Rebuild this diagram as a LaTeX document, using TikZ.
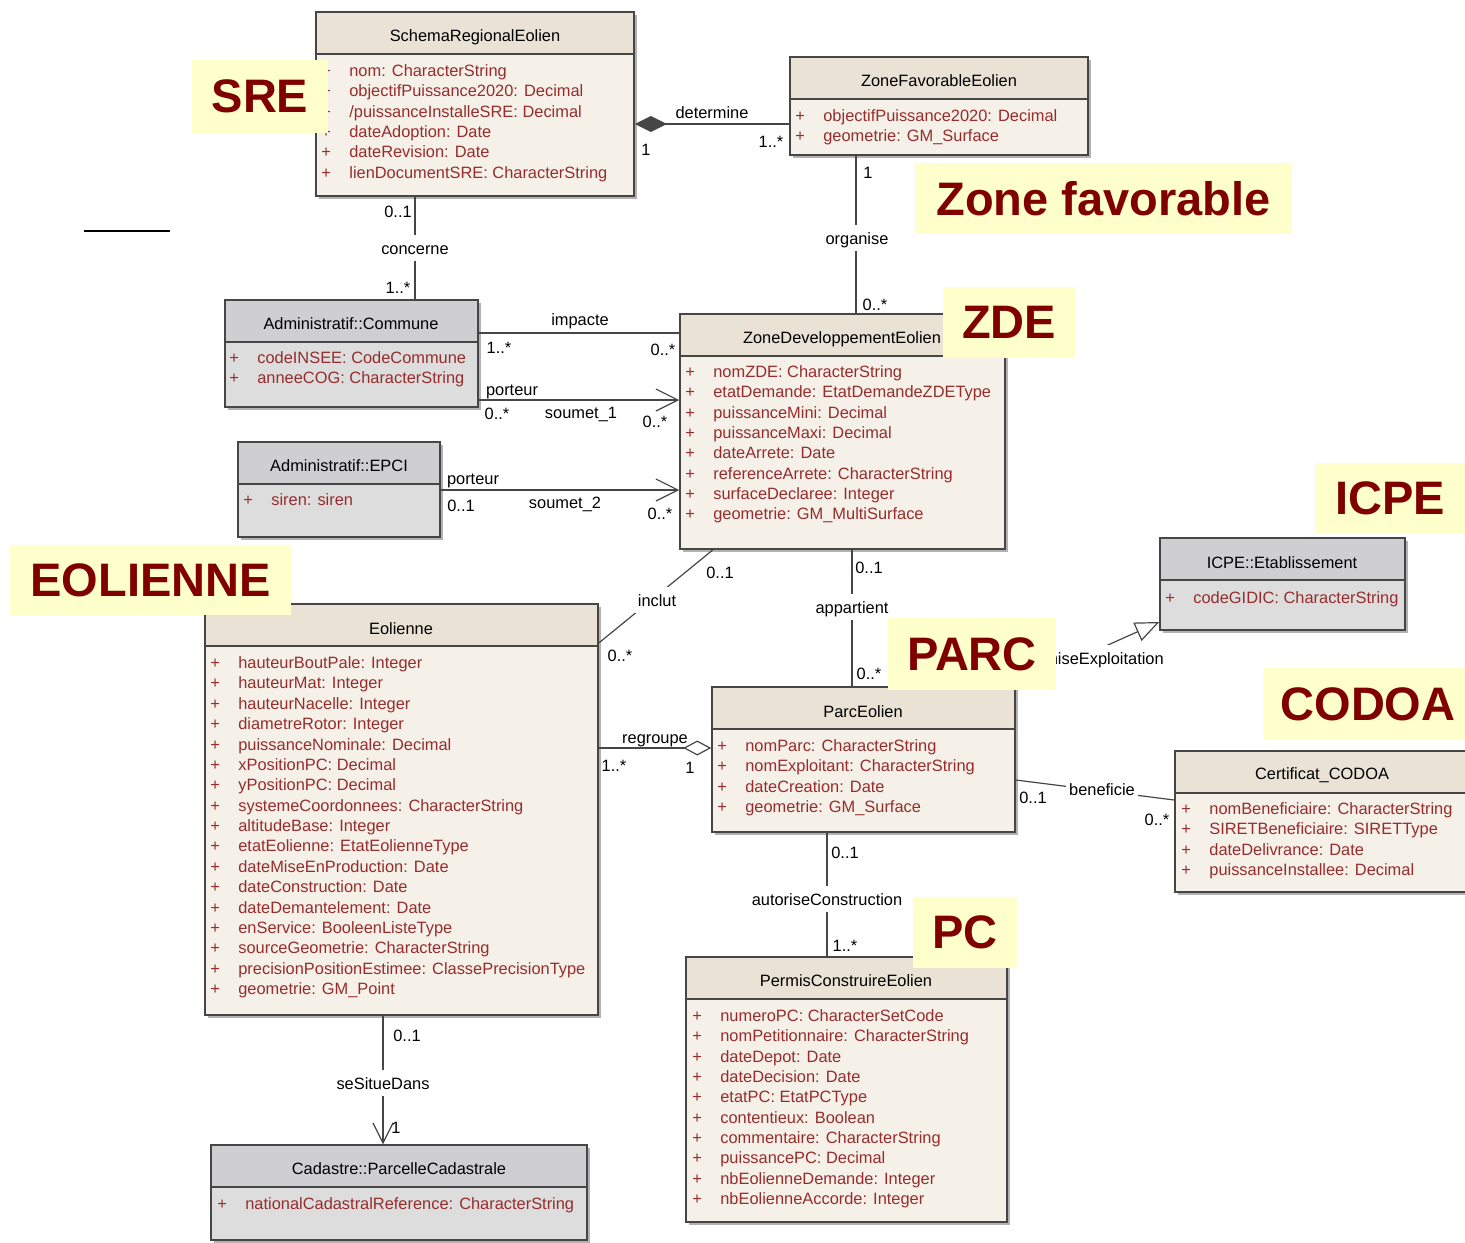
\documentclass[tikz,border=0pt]{standalone}
\usepackage{fontspec}
\setmainfont{Liberation Sans}
\usetikzlibrary{arrows.meta,positioning,fit,shadows}

\definecolor{clsbody}{RGB}{245,240,232}
\definecolor{clshead}{RGB}{233,226,213}
\definecolor{greybody}{RGB}{221,221,222}
\definecolor{greyhead}{RGB}{207,207,209}
\definecolor{clsline}{RGB}{70,70,70}
\definecolor{attrred}{RGB}{150,45,45}
\definecolor{tagfill}{RGB}{255,255,204}
\definecolor{tagred}{RGB}{128,0,0}

\begin{document}
\begin{tikzpicture}[x=0.5pt, y=-0.5pt,
    classbox/.style 2 args={draw=clsline, line width=0.75pt, fill=#1, inner sep=0pt,
        drop shadow={shadow xshift=1.5pt, shadow yshift=-1.5pt, opacity=0.3, fill=black},
        path picture={
            \fill[#2] (path picture bounding box.north west) rectangle ([yshift=-21pt]path picture bounding box.north east);
            \draw[clsline, line width=0.75pt] ([yshift=-21pt]path picture bounding box.north west) -- ([yshift=-21pt]path picture bounding box.north east);
        }},
    beige/.style={classbox={clsbody}{clshead}},
    grey/.style={classbox={greybody}{greyhead}},
    txt/.style={inner sep=0pt, text height=1.5ex, text depth=.25ex, font=\fontsize{8.2}{10}\selectfont},
    attr/.style={txt, anchor=west, text=attrred},
    role/.style={txt, fill=white, inner xsep=1.5pt, inner ysep=2pt},
    assoc/.style={draw=clsline, line width=0.6pt},
    barb/.style={-{Straight Barb[length=11pt,width=11pt]}},
    tag/.style={fill=tagfill, text=tagred, inner sep=0pt, font=\fontsize{23.5}{28}\selectfont\bfseries}
]
    \useasboundingbox (0,0) rectangle (1465,1242);

    % Classes
    \node[beige, fit={(316,12) (634,196)}] (sre) {};
    \node[txt] (sre-t) at (475,35) {SchemaRegionalEolien};
    \foreach \a [count=\i from 0] in {nom: CharacterString, objectifPuissance2020: Decimal,
        /puissanceInstalleSRE: Decimal, dateAdoption: Date, dateRevision: Date, lienDocumentSRE: CharacterString}
        \node[attr] (sre-a\i) at (321,{70+20.33*\i}) {+\hspace{9.2pt}\a};

    \node[beige, fit={(790,57) (1088,155)}] (zfav) {};
    \node[txt] (zfav-t) at (939,80) {ZoneFavorableEolien};
    \foreach \a [count=\i from 0] in {objectifPuissance2020: Decimal, geometrie: GM\_Surface}
        \node[attr] (zfav-a\i) at (795,{115+20.33*\i}) {+\hspace{9.2pt}\a};

    \node[grey, fit={(225,300) (478,407)}] (commune) {};
    \node[txt] (commune-t) at (351,323) {Administratif::Commune};
    \foreach \a [count=\i from 0] in {codeINSEE: CodeCommune, anneeCOG: CharacterString}
        \node[attr] (commune-a\i) at (229,{357+20.33*\i}) {+\hspace{9.2pt}\a};

    \node[beige, fit={(680,314) (1005,549)}] (zde) {};
    \node[txt] (zde-t) at (842,337) {ZoneDeveloppementEolien};
    \foreach \a [count=\i from 0] in {nomZDE: CharacterString, etatDemande: EtatDemandeZDEType,
        puissanceMini: Decimal, puissanceMaxi: Decimal, dateArrete: Date, referenceArrete: CharacterString,
        surfaceDeclaree: Integer, geometrie: GM\_MultiSurface}
        \node[attr] (zde-a\i) at (685,{371+20.33*\i}) {+\hspace{9.2pt}\a};

    \node[grey, fit={(238,442) (440,537)}] (epci) {};
    \node[txt] (epci-t) at (339,465) {Administratif::EPCI};
    \node[attr] (epci-a0) at (243,499) {+\hspace{9.2pt}siren: siren};

    \node[beige, fit={(205,604) (598,1015)}] (eol) {};
    \node[txt] (eol-t) at (401,628) {Eolienne};
    \foreach \a [count=\i from 0] in {hauteurBoutPale: Integer, hauteurMat: Integer, hauteurNacelle: Integer,
        diametreRotor: Integer, puissanceNominale: Decimal, xPositionPC: Decimal, yPositionPC: Decimal,
        systemeCoordonnees: CharacterString, altitudeBase: Integer, etatEolienne: EtatEolienneType,
        dateMiseEnProduction: Date, dateConstruction: Date, dateDemantelement: Date,
        enService: BooleenListeType, sourceGeometrie: CharacterString,
        precisionPositionEstimee: ClassePrecisionType, geometrie: GM\_Point}
        \node[attr] (eol-a\i) at (210,{662+20.375*\i}) {+\hspace{9.2pt}\a};

    \node[beige, fit={(712,687) (1015,832)}] (parc) {};
    \node[txt] (parc-t) at (863,711) {ParcEolien};
    \foreach \a [count=\i from 0] in {nomParc: CharacterString, nomExploitant: CharacterString,
        dateCreation: Date, geometrie: GM\_Surface}
        \node[attr] (parc-a\i) at (717,{745+20.33*\i}) {+\hspace{9.2pt}\a};

    \node[grey, fit={(1160,538) (1405,630)}] (icpe) {};
    \node[txt] (icpe-t) at (1282,562) {ICPE::Etablissement};
    \node[attr] (icpe-a0) at (1165,597) {+\hspace{9.2pt}codeGIDIC: CharacterString};

    \node[beige, fit={(1175,751) (1472,892)}] (codoa) {};
    \node[txt] (codoa-t) at (1322,773) {Certificat\_CODOA};
    \foreach \a [count=\i from 0] in {nomBeneficiaire: CharacterString, SIRETBeneficiaire: SIRETType,
        dateDelivrance: Date, puissanceInstallee: Decimal}
        \node[attr] (codoa-a\i) at (1181,{808+20.33*\i}) {+\hspace{9.2pt}\a};

    \node[beige, fit={(686,957) (1007,1222)}] (pc) {};
    \node[txt] (pc-t) at (846,980) {PermisConstruireEolien};
    \foreach \a [count=\i from 0] in {numeroPC: CharacterSetCode, nomPetitionnaire: CharacterString,
        dateDepot: Date, dateDecision: Date, etatPC: EtatPCType, contentieux: Boolean,
        commentaire: CharacterString, puissancePC: Decimal, nbEolienneDemande: Integer,
        nbEolienneAccorde: Integer}
        \node[attr] (pc-a\i) at (692,{1015+20.33*\i}) {+\hspace{9.2pt}\a};

    \node[grey, fit={(211,1145) (587,1240)}] (cad) {};
    \node[txt] (cad-t) at (399,1168) {Cadastre::ParcelleCadastrale};
    \node[attr] (cad-a0) at (217,1203) {+\hspace{9.2pt}nationalCadastralReference: CharacterString};

    % Associations
    \draw[assoc, {Diamond[length=16pt,width=8pt]}-] (sre.east |- 0,124) -- (zfav.west |- 0,124);
    \draw[assoc] (sre.south -| 415,0) -- (commune.north -| 415,0);
    \draw[assoc] (zfav.south -| 856,0) -- (zde.north -| 856,0);
    \draw[assoc] (commune.east |- 0,333) -- (zde.west |- 0,333);
    \draw[assoc, barb] (commune.east |- 0,400) -- (zde.west |- 0,400);
    \draw[assoc, barb] (epci.east |- 0,490) -- (zde.west |- 0,490);
    \draw[assoc] (zde.south -| 713,0) -- (eol.east |- 0,643);
    \draw[assoc] (zde.south -| 852,0) -- (parc.north -| 852,0);
    \draw[assoc, -{Diamond[open,length=14pt,width=7.5pt]}] (eol.east |- 0,748) -- (parc.west |- 0,748);
    \draw[assoc, -{Triangle[open,length=12pt,width=10pt]}] (parc.north east) -- (icpe.west |- 0,622);
    \draw[assoc] (parc.east |- 0,780) -- (codoa.west |- 0,800);
    \draw[assoc] (parc.south -| 827,0) -- (pc.north -| 827,0);
    \draw[assoc, -{Straight Barb[length=10pt,width=10pt]}] (eol.south -| 383,0) -- (cad.north -| 383,0);
    \draw[line width=1pt] (84,231) -- (170,231);

    % Association names and multiplicities
    \node[txt] (det) at (712,112) {determine};
    \node[txt] (det-m1) at (646,149) {1};
    \node[txt] (det-m2) at (771,141) {1..*};
    \node[role] (con) at (415,248) {concerne};
    \node[txt] (con-m1) at (398,211) {0..1};
    \node[txt] (con-m2) at (398,287) {1..*};
    \node[role] (org) at (857,238) {organise};
    \node[txt] (org-m1) at (868,172) {1};
    \node[txt] (org-m2) at (875,304) {0..*};
    \node[txt] (imp) at (580,319) {impacte};
    \node[txt] (imp-m1) at (499,347) {1..*};
    \node[txt] (imp-m2) at (663,349) {0..*};
    \node[txt] (sou1-r) at (512,389) {porteur};
    \node[txt] (sou1-m1) at (497,413) {0..*};
    \node[txt] (sou1) at (581,412) {soumet\_1};
    \node[txt] (sou1-m2) at (655,421) {0..*};
    \node[txt] (sou2-r) at (473,478) {porteur};
    \node[txt] (sou2-m1) at (461,505) {0..1};
    \node[txt] (sou2) at (565,502) {soumet\_2};
    \node[txt] (sou2-m2) at (660,513) {0..*};
    \node[role] (inc) at (657,600) {inclut};
    \node[txt] (inc-m1) at (720,572) {0..1};
    \node[txt] (inc-m2) at (620,655) {0..*};
    \node[role] (app) at (852,607) {appartient};
    \node[txt] (app-m1) at (869,567) {0..1};
    \node[txt] (app-m2) at (869,673) {0..*};
    \node[txt] (reg) at (655,737) {regroupe};
    \node[txt] (reg-m1) at (614,765) {1..*};
    \node[txt] (reg-m2) at (690,767) {1};
    \node[role] (mise) at (1104,658) {miseExploitation};
    \node[role] (ben) at (1102,789) {beneficie};
    \node[txt] (ben-m1) at (1033,797) {0..1};
    \node[txt] (ben-m2) at (1157,819) {0..*};
    \node[role] (aut) at (827,899) {autoriseConstruction};
    \node[txt] (aut-m1) at (845,852) {0..1};
    \node[txt] (aut-m2) at (845,945) {1..*};
    \node[role] (sit) at (383,1083) {seSitueDans};
    \node[txt] (sit-m1) at (407,1035) {0..1};
    \node[txt] (sit-m2) at (396,1127) {1};

    % Theme tags
    \node[tag, minimum width=68pt, minimum height=36.5pt] (tag-sre) at (260,96.5) {SRE};
    \node[tag, minimum width=188.5pt, minimum height=35.5pt] (tag-zfav) at (1103.5,198.5) {Zone favorable};
    \node[tag, minimum width=66pt, minimum height=35.5pt] (tag-zde) at (1009,322.5) {ZDE};
    \node[tag, minimum width=75pt, minimum height=35pt] (tag-icpe) at (1390,498) {ICPE};
    \node[tag, minimum width=140.5pt, minimum height=35pt] (tag-eol) at (150.5,580) {EOLIENNE};
    \node[tag, minimum width=84pt, minimum height=36pt] (tag-parc) at (972,654) {PARC};
    \node[tag, minimum width=105pt, minimum height=36pt] (tag-codoa) at (1368,704) {CODOA};
    \node[tag, minimum width=52pt, minimum height=35.5pt] (tag-pc) at (965,932.5) {PC};
\end{tikzpicture}
\end{document}
